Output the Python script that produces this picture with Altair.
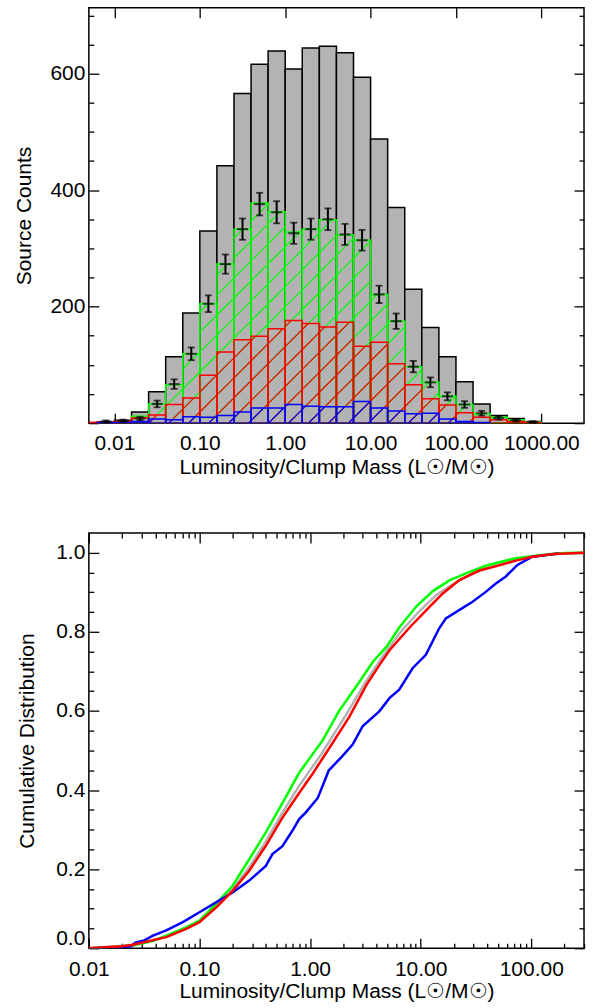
import altair as alt
import numpy as np
import pandas as pd

FONT = "Liberation Sans"
GRAY = "#b3b3b3"
GREEN = "#00ff00"
RED = "#ff0000"
BLUE = "#0000ff"

# ---------------- Top panel: histogram (log10 bin edges, 0.2 dex wide) ----------------
bin_left_log = [-2.4, -2.2, -2.0, -1.8, -1.6, -1.4, -1.2, -1.0, -0.8, -0.6, -0.4, -0.2, 0.0,
                0.2, 0.4, 0.6, 0.8, 1.0, 1.2, 1.4, 1.6, 1.8, 2.0, 2.2, 2.4, 2.6, 2.8]
bin_width_log = 0.2
counts_all = [1, 2, 5, 19, 54, 114, 189, 330, 442, 566, 616, 639, 608, 644, 647, 636, 594,
              488, 370, 230, 164, 114, 71, 33, 13, 8, 3]
counts_green = [0, 1, 3, 12, 33, 66, 119, 205, 273, 333, 378, 363, 328, 333, 349, 323, 314,
                221, 175, 97, 70, 46, 32, 16, 10, 6, 2]
counts_red = [1, 2, 3, 9, 14, 32, 43, 82, 122, 143, 149, 162, 176, 171, 165, 173, 132,
              139, 102, 66, 42, 31, 18, 10, 6, 3, 1]
counts_blue = [0, 1, 1, 3, 7, 6, 11, 10, 13, 19, 26, 26, 32, 29, 28, 28, 37,
               26, 21, 16, 17, 7, 3, 1, 0, 0, 0]
cross_center_log = [-2.1, -1.9, -1.7, -1.5, -1.3, -1.1, -0.9, -0.7, -0.5, -0.3, -0.1, 0.1, 0.3,
                    0.5, 0.7, 0.9, 1.1, 1.3, 1.5, 1.7, 1.9, 2.1, 2.3, 2.5, 2.7, 2.9]
cross_counts = [3, 4, 8, 33, 67, 119, 205, 273, 333, 376, 362, 326, 333, 350, 324, 314, 221,
                175, 97, 70, 46, 32, 17, 9, 5, 2]
cross_err = [1.7, 2.0, 2.8, 5.7, 8.2, 10.9, 14.3, 16.5, 18.2, 19.4, 19.0, 18.1, 18.2, 18.7,
             18.0, 17.7, 14.9, 13.2, 9.8, 8.4, 6.8, 5.7, 4.1, 3.0, 2.2, 1.4]

# ---------------- Bottom panel: cumulative distributions ----------------
cdf_all_logx = [-2.0, -1.6, -1.3, -1.0, -0.85, -0.7, -0.55, -0.4, -0.25, -0.1, 0.1, 0.325, 0.5,
                0.656, 0.82, 0.987, 1.15, 1.29, 1.45, 1.59, 1.75, 1.95, 2.2, 2.48]
cdf_all = [0.0, 0.008, 0.030, 0.068, 0.106, 0.150, 0.205, 0.270, 0.343, 0.410, 0.490, 0.590,
           0.672, 0.738, 0.800, 0.852, 0.895, 0.920, 0.945, 0.960, 0.974, 0.988, 0.997, 1.0]

cdf_green_logx = [-2.0, -1.8, -1.6, -1.4, -1.3, -1.12, -1.0, -0.85, -0.7, -0.55, -0.4, -0.25,
                  -0.1, 0.0, 0.11, 0.26, 0.45, 0.57, 0.69, 0.81, 0.96, 1.11, 1.26, 1.41, 1.59,
                  1.71, 1.86, 2.16, 2.3, 2.48]
cdf_green = [0.0, 0.002, 0.007, 0.020, 0.032, 0.053, 0.070, 0.112, 0.158, 0.225, 0.293, 0.367,
             0.443, 0.482, 0.524, 0.599, 0.675, 0.725, 0.762, 0.812, 0.864, 0.903, 0.930, 0.948,
             0.967, 0.976, 0.986, 0.996, 0.999, 1.0]

cdf_red_logx = [-2.0, -1.7, -1.6, -1.3, -1.12, -1.0, -0.85, -0.7, -0.55, -0.4, -0.25, -0.1,
                0.02, 0.16, 0.355, 0.51, 0.63, 0.72, 0.9, 1.08, 1.2, 1.35, 1.53, 1.71, 1.86,
                2.01, 2.2, 2.48]
cdf_red = [0.0, 0.005, 0.009, 0.028, 0.049, 0.066, 0.103, 0.145, 0.196, 0.259, 0.330, 0.392,
           0.440, 0.500, 0.585, 0.666, 0.717, 0.754, 0.811, 0.863, 0.897, 0.931, 0.955, 0.968,
           0.980, 0.990, 0.997, 1.0]

cdf_blue_logx = [-2.0, -1.7, -1.62, -1.58, -1.5, -1.42, -1.3, -1.15, -1.0, -0.85, -0.7, -0.55,
                 -0.4, -0.34, -0.25, -0.16, -0.1, -0.04, 0.07, 0.17, 0.29, 0.385, 0.475, 0.626,
                 0.72, 0.806, 0.927, 1.047, 1.168, 1.228, 1.348, 1.469, 1.589, 1.68, 1.77,
                 1.875, 2.01, 2.25]
cdf_blue = [0.0, 0.002, 0.005, 0.014, 0.020, 0.032, 0.045, 0.066, 0.091, 0.116, 0.141, 0.171,
            0.208, 0.238, 0.258, 0.297, 0.326, 0.343, 0.380, 0.450, 0.485, 0.515, 0.561, 0.599,
            0.633, 0.654, 0.708, 0.742, 0.809, 0.834, 0.855, 0.876, 0.901, 0.922, 0.940,
            0.969, 0.990, 0.998]

# ---------------- geometry ----------------
W, H = 496, 416
TOP_XLOG = (-2.3, 3.5)
TOP_YMAX = 713
BOT_XLOG = (-2.0, np.log10(300.0))
BOT_YMAX = 1.05

xs_top = alt.Scale(type="log", domain=[10 ** TOP_XLOG[0], 10 ** TOP_XLOG[1]], nice=False)
ys_top = alt.Scale(domain=[0, TOP_YMAX], nice=False, zero=False)
xs_bot = alt.Scale(type="log", domain=[10 ** BOT_XLOG[0], 10 ** BOT_XLOG[1]], nice=False)
ys_bot = alt.Scale(domain=[0, BOT_YMAX], nice=False, zero=False)

bins = pd.DataFrame({
    "x1": [10 ** v for v in bin_left_log],
    "x2": [10 ** (v + bin_width_log) for v in bin_left_log],
    "all": counts_all, "green": counts_green, "red": counts_red, "blue": counts_blue,
})

# hatch lines at 45 degrees (pixel space), clipped to each bar
PPD = W / (TOP_XLOG[1] - TOP_XLOG[0])
PPC = H / TOP_YMAX
SPACING = 20.0


def hatch(counts):
    rows = []
    for lo, c in zip(bin_left_log, counts):
        if c <= 0:
            continue
        xa = (lo - TOP_XLOG[0]) * PPD
        xb = (lo + bin_width_log - TOP_XLOG[0]) * PPD
        h = c * PPC
        kmin = int(np.floor(-xb / SPACING)) - 1
        kmax = int(np.ceil((h - xa) / SPACING)) + 1
        for k in range(kmin, kmax + 1):
            cc = k * SPACING
            a = max(xa, -cc)
            b = min(xb, h - cc)
            if b - a > 0.4:
                rows.append({
                    "x1": 10 ** (TOP_XLOG[0] + a / PPD), "x2": 10 ** (TOP_XLOG[0] + b / PPD),
                    "y1": (a + cc) / PPC, "y2": (b + cc) / PPC,
                })
    return pd.DataFrame(rows)


def tick_axis(values, size, orient):
    return alt.Axis(values=values, orient=orient, ticks=True, tickSize=size, tickWidth=1.3,
                    tickColor="black", offset=-size, labels=False, domain=False, grid=False,
                    title=None)


def axis_layer(xscale, yscale, xaxis, yaxis, xv, yv):
    dummy = pd.DataFrame({"x": [xv], "y": [yv]})
    return alt.Chart(dummy).mark_point(opacity=0, size=1).encode(
        x=alt.X("x:Q", scale=xscale, axis=xaxis),
        y=alt.Y("y:Q", scale=yscale, axis=yaxis),
    )


def rect_layer(col, fill, stroke, sw):
    df = bins[bins[col] > 0]
    kw = dict(stroke=stroke, strokeWidth=sw, clip=True)
    if fill is None:
        mk = alt.Chart(df).mark_rect(fillOpacity=0, **kw)
    else:
        mk = alt.Chart(df).mark_rect(fill=fill, **kw)
    return mk.encode(
        x=alt.X("x1:Q", scale=xs_top, axis=None), x2="x2",
        y=alt.Y(f"{col}:Q", scale=ys_top, axis=None), y2=alt.datum(0),
    )


def hatch_layer(counts, color):
    return alt.Chart(hatch(counts)).mark_rule(color=color, strokeWidth=1.2, clip=True).encode(
        x=alt.X("x1:Q", scale=xs_top, axis=None), x2="x2",
        y=alt.Y("y1:Q", scale=ys_top, axis=None), y2="y2",
    )


err = pd.DataFrame({
    "x": [10 ** v for v in cross_center_log],
    "y": cross_counts,
    "lo": [c - e for c, e in zip(cross_counts, cross_err)],
    "hi": [c + e for c, e in zip(cross_counts, cross_err)],
})
ex = alt.X("x:Q", scale=xs_top, axis=None)
err_v = alt.Chart(err).mark_rule(color="black", strokeWidth=2).encode(
    x=ex, y=alt.Y("lo:Q", scale=ys_top, axis=None), y2="hi")
err_lo = alt.Chart(err).mark_tick(orient="horizontal", color="black", size=7, thickness=1.8).encode(
    x=ex, y=alt.Y("lo:Q", scale=ys_top, axis=None))
err_hi = alt.Chart(err).mark_tick(orient="horizontal", color="black", size=7, thickness=1.8).encode(
    x=ex, y=alt.Y("hi:Q", scale=ys_top, axis=None))
err_h = alt.Chart(err).mark_tick(orient="horizontal", color="black", size=11, thickness=2).encode(
    x=ex, y=alt.Y("y:Q", scale=ys_top, axis=None))

XTITLE = "Luminosity/Clump Mass (L\u2609/M\u2609)"

top_x_major = [0.01, 0.1, 1, 10, 100, 1000]
top_y_major = [0, 200, 400, 600]
top_y_minor = [v for v in range(50, 713, 50) if v % 200 != 0]

top_labels = axis_layer(
    xs_top, ys_top,
    alt.Axis(values=top_x_major, format=".2f", orient="bottom", ticks=False, domain=False,
             grid=False, labelFlush=False, labelOverlap=False, labelPadding=9,
             title=XTITLE, titlePadding=3),
    alt.Axis(values=[200, 400, 600], format="d", orient="left", ticks=False, domain=False,
             grid=False, labelPadding=4, title="Source Counts", titlePadding=15),
    1, 100)

top = alt.layer(
    rect_layer("all", GRAY, "black", 1.5),
    hatch_layer(counts_green, GREEN), rect_layer("green", None, GREEN, 1.5),
    hatch_layer(counts_red, RED), rect_layer("red", None, RED, 1.5),
    hatch_layer(counts_blue, BLUE), rect_layer("blue", None, BLUE, 1.5),
    err_v, err_lo, err_hi, err_h,
    top_labels,
    axis_layer(xs_top, ys_top, tick_axis(top_x_major, 10, "bottom"), tick_axis(top_y_major, 10, "left"), 1, 100),
    axis_layer(xs_top, ys_top, tick_axis(top_x_major, 10, "top"), tick_axis(top_y_major, 10, "right"), 1, 100),
    axis_layer(xs_top, ys_top, None, tick_axis(top_y_minor, 5, "left"), 1, 100),
    axis_layer(xs_top, ys_top, None, tick_axis(top_y_minor, 5, "right"), 1, 100),
).resolve_scale(x="independent", y="independent").properties(width=W, height=H)

# ---------------- bottom ----------------
bot_x_major = [0.01, 0.1, 1, 10, 100]
bot_x_minor = [m * d for d in [0.01, 0.1, 1, 10, 100] for m in range(2, 10) if m * d <= 300]
bot_y_major = [0.0, 0.2, 0.4, 0.6, 0.8, 1.0]
bot_y_minor = [0.05, 0.1, 0.15, 0.25, 0.3, 0.35, 0.45, 0.5, 0.55, 0.65, 0.7, 0.75, 0.85, 0.9,
               0.95]


def cdf_layer(logx, vals, color):
    df = pd.DataFrame({"x": [10 ** v for v in logx], "v": vals})
    return alt.Chart(df).mark_line(color=color, strokeWidth=2.5, clip=True).encode(
        x=alt.X("x:Q", scale=xs_bot, axis=None),
        y=alt.Y("v:Q", scale=ys_bot, axis=None),
    )


bot_labels = axis_layer(
    xs_bot, ys_bot,
    alt.Axis(values=bot_x_major, format=".2f", orient="bottom", ticks=False, domain=False,
             grid=False, labelFlush=False, labelOverlap=False, labelPadding=10,
             title=XTITLE, titlePadding=1),
    alt.Axis(values=bot_y_major, format=".1f", orient="left", ticks=False, domain=False,
             grid=False, labelPadding=4, labelFlush=True, title="Cumulative Distribution",
             titlePadding=18),
    1, 0.5)

bottom = alt.layer(
    cdf_layer(cdf_all_logx, cdf_all, GRAY),
    cdf_layer(cdf_green_logx, cdf_green, GREEN),
    cdf_layer(cdf_blue_logx, cdf_blue, BLUE),
    cdf_layer(cdf_red_logx, cdf_red, RED),
    bot_labels,
    axis_layer(xs_bot, ys_bot, tick_axis(bot_x_major, 10, "bottom"), tick_axis(bot_y_major, 10, "left"), 1, 0.5),
    axis_layer(xs_bot, ys_bot, tick_axis(bot_x_major, 10, "top"), tick_axis(bot_y_major, 10, "right"), 1, 0.5),
    axis_layer(xs_bot, ys_bot, tick_axis(bot_x_minor, 5, "bottom"), tick_axis(bot_y_minor, 5, "left"), 1, 0.5),
    axis_layer(xs_bot, ys_bot, tick_axis(bot_x_minor, 5, "top"), tick_axis(bot_y_minor, 5, "right"), 1, 0.5),
).resolve_scale(x="independent", y="independent").properties(width=W, height=H)

chart = alt.vconcat(top, bottom, spacing=53).properties(
    padding={"left": 13, "top": 5, "right": 10, "bottom": 0},
    background="white",
).configure_view(
    stroke="black", strokeWidth=1.5
).configure_axis(
    labelFont=FONT, titleFont=FONT, labelFontSize=21, titleFontSize=21,
    titleFontWeight="normal", labelColor="black", titleColor="black",
)

chart.save("out.html", embed_options={"renderer": "svg", "actions": False})
